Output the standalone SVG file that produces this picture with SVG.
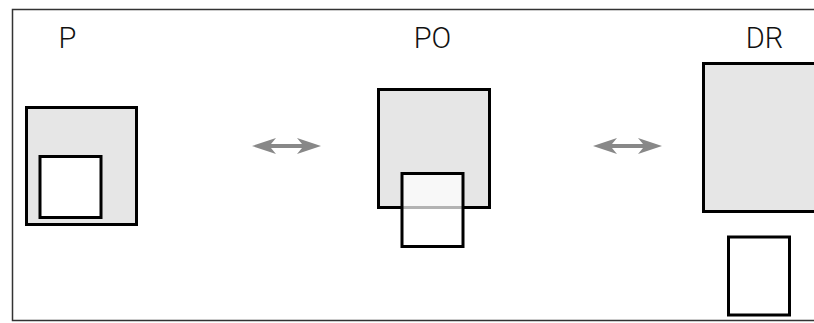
<svg xmlns="http://www.w3.org/2000/svg" width="814" height="323" viewBox="0 0 814 323">
  <style>
    .frame { fill: none; stroke: #333; stroke-width: 1.5; }
    .label { font-family: Roboto, "Liberation Sans", sans-serif; font-weight: 300; font-size: 29px; fill: #111; text-anchor: middle; }
    .outer { fill: #e6e6e6; stroke: #000; stroke-width: 3; }
    .inner { fill: #fff; stroke: #000; stroke-width: 3; }
    .inner-veil { fill: #fff; fill-opacity: 0.7; stroke: #000; stroke-width: 3; }
    .link { fill: #888; stroke: none; }
  </style>

  <rect width="814" height="323" fill="#fff"/>
  <!-- open frame: left, top and bottom edges -->
  <path class="frame" d="M814,9.5 H12.5 V320.5 H814"/>

  <g id="node-p">
    <text class="label" x="67.5" y="48">P</text>
    <rect class="outer" x="26.5" y="107.5" width="110" height="117"/>
    <rect class="inner" x="40" y="156.5" width="61" height="61"/>
  </g>

  <g id="node-po">
    <text class="label" x="432.5" y="48">PO</text>
    <rect class="outer" x="378.5" y="89.5" width="111" height="118"/>
    <rect class="inner-veil" x="402" y="173.5" width="61" height="73"/>
  </g>

  <g id="node-dr">
    <text class="label" x="764.5" y="48">DR</text>
    <rect class="outer" x="703.5" y="63.5" width="115" height="148"/>
    <rect class="inner" x="728.5" y="237" width="61" height="78"/>
  </g>

  <g id="connectors">
    <!-- double-headed arrow P <-> PO -->
    <path class="link" d="M252,146 L276,138 L271,144 H302 L297,138 L321,146 L297,154 L302,148 H271 L276,154 Z"/>
    <!-- double-headed arrow PO <-> DR -->
    <path class="link" d="M593,146 L617,138 L612,144 H643 L638,138 L662,146 L638,154 L643,148 H612 L617,154 Z"/>
  </g>
</svg>
